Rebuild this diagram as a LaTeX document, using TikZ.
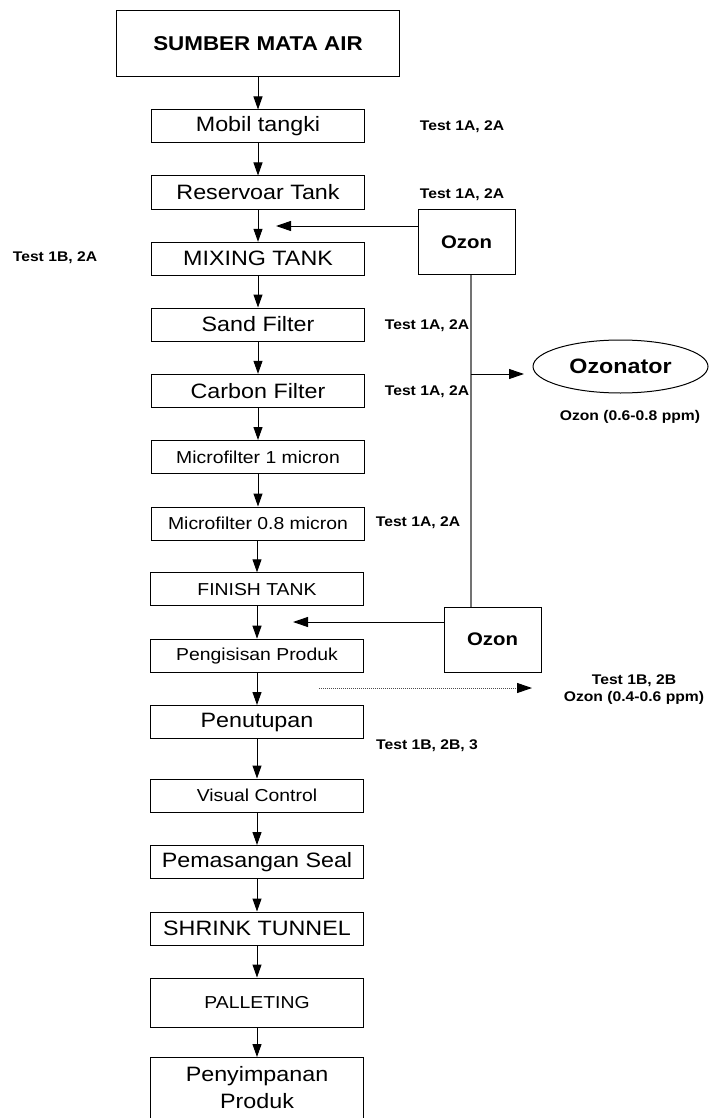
\documentclass[tikz,border=0pt]{standalone}
\usepackage{fontspec}
\setmainfont{Liberation Sans}[FakeStretch=1.12]
\usetikzlibrary{arrows.meta, shapes.geometric}

\begin{document}
\begin{tikzpicture}[x=1pt, y=-1pt, line width=1pt,
    b/.style={draw, minimum width=213pt, minimum height=33pt, inner sep=0pt, font=\fontsize{20.8}{24}\selectfont},
    bs/.style={b, font=\fontsize{17.3}{20}\selectfont},
    oz/.style={draw, minimum width=97pt, minimum height=65pt, inner sep=0pt, font=\bfseries\fontsize{18.2}{20}\selectfont},
    lbl/.style={inner sep=0pt, align=center, font=\bfseries\fontsize{14}{17}\selectfont},
    arr/.style={-{Triangle[length=13pt, width=9pt]}},
    harr/.style={-{Triangle[length=15pt, width=10pt, color=black]}},
    pipe/.style={draw=black!55, line width=1.3pt}]
    \useasboundingbox[fill=white] (0,0) rectangle (709,1118);
    % main line
    \node[draw, minimum width=283pt, minimum height=66pt, font=\bfseries\fontsize{20}{22}\selectfont] (src) at (258,44) {SUMBER MATA AIR};
    \node[b] (mobil) at (258,126.5) {Mobil tangki};
    \node[b] (resv) at (258,192.5) {Reservoar Tank};
    \node[b] (mix) at (258,258.8) {MIXING TANK};
    \node[b] (sand) at (258,324.5) {Sand Filter};
    \node[b] (carb) at (258,390.8) {Carbon Filter};
    \node[bs] (mf1) at (258,457) {Microfilter 1 micron};
    \node[bs] (mf2) at (258,523.5) {Microfilter 0.8 micron};
    \node[bs] (fin) at (257,589.3) {FINISH TANK};
    \node[bs] (fill) at (257,655.7) {Pengisisan Produk};
    \node[b] (tutup) at (257,722) {Penutupan};
    \node[bs] (vis) at (257,795.5) {Visual Control};
    \node[b] (seal) at (257,862) {Pemasangan Seal};
    \node[b] (shrink) at (257,928.5) {SHRINK TUNNEL};
    \node[bs, minimum height=49pt] (pallet) at (257,1002.5) {PALLETING};
    \node[b, anchor=north, align=center, inner ysep=9pt, text depth=12pt, font=\fontsize{20.8}{27}\selectfont] (store) at (257,1057) {Penyimpanan\\Produk};
    \draw[arr] (src) -- (mobil); \draw[arr] (mobil) -- (resv); \draw[arr] (resv) -- (mix);
    \draw[arr] (mix) -- (sand); \draw[arr] (sand) -- (carb); \draw[arr] (carb) -- (mf1);
    \draw[arr] (mf1) -- (mf2); \draw[arr] (mf2.south -| fin) -- (fin); \draw[arr] (fin) -- (fill);
    \draw[arr] (fill) -- (tutup); \draw[arr] (tutup) -- (vis); \draw[arr] (vis) -- (seal);
    \draw[arr] (seal) -- (shrink); \draw[arr] (shrink) -- (pallet); \draw[arr] (pallet) -- (store);
    % ozon supply
    \node[oz] (ozA) at (466.5,242) {Ozon};
    \node[oz] (ozB) at (492.5,639.5) {Ozon};
    \node[draw, ellipse, minimum width=175pt, minimum height=53pt, inner sep=0pt, font=\bfseries\fontsize{20.8}{24}\selectfont] (ozr) at (620.5,366.5) {Ozonator};
    \coordinate (inA) at (276,226); \coordinate (inB) at (293,622);
    \coordinate (tap) at (471,374); \coordinate (tapend) at (524,374);
    \coordinate (dotA) at (319,688); \coordinate (dotB) at (532,688);
    \draw[harr] (inA -| ozA.west) -- (inA);
    \draw[harr] (inB -| ozB.west) -- (inB);
    \draw[pipe] (tap |- ozA.south) -- (tap |- ozB.north);
    \draw[harr] (tap) -- (tapend);
    \draw[harr, draw=black!70, densely dotted] (dotA) -- (dotB);
    % test labels
    \node[lbl] (t1) at (462,127) {Test 1A, 2A};
    \node[lbl] (t2) at (462,195) {Test 1A, 2A};
    \node[lbl] (t3) at (55,258) {Test 1B, 2A};
    \node[lbl] (t4) at (427,326) {Test 1A, 2A};
    \node[lbl] (t5) at (427,392) {Test 1A, 2A};
    \node[lbl] (t6) at (418,523) {Test 1A, 2A};
    \node[lbl] (t7) at (427,746) {Test 1B, 2B, 3};
    \node[lbl] (t8) at (634,690) {Test 1B, 2B\\Ozon (0.4-0.6 ppm)};
    \node[lbl] (ppm) at (630,417) {Ozon (0.6-0.8 ppm)};
\end{tikzpicture}
\end{document}
